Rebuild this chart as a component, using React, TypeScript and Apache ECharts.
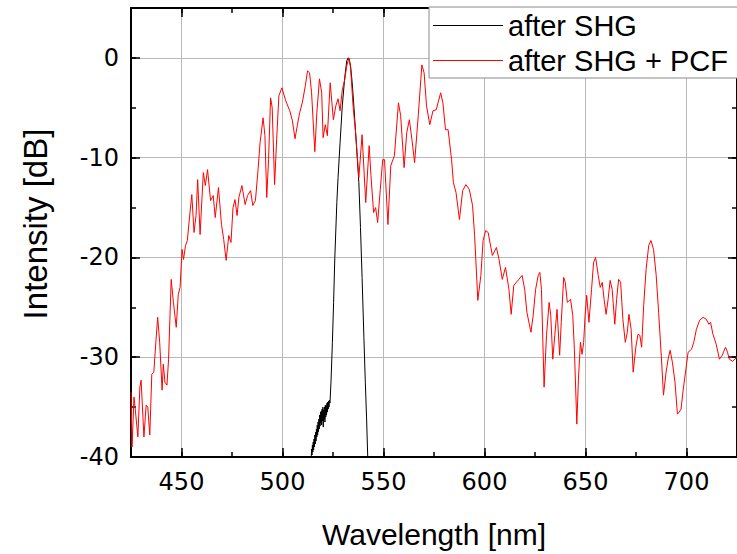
import React, { useEffect, useRef } from 'react';
import * as echarts from 'echarts';

// after SHG (black)
const shgWavelength = [
  514.2, 514.4, 514.6, 514.8, 515.0, 515.2, 515.4, 515.6, 515.8, 516.0,
  516.2, 516.4, 516.6, 516.8, 517.0, 517.2, 517.4, 517.6, 517.8, 518.0,
  518.2, 518.4, 518.6, 518.8, 519.0, 519.2, 519.4, 519.6, 519.8, 520.0,
  520.2, 520.4, 520.6, 520.8, 521.0, 521.2, 521.4, 521.6, 521.8, 522.0,
  522.2, 522.4, 522.6, 522.8, 523.0, 523.2, 523.5, 524.0, 524.7, 525.3,
  525.9, 526.9, 527.5, 528.5, 529.6, 530.8, 531.8, 532.5, 533.0, 533.7,
  534.5, 535.4, 536.2, 537.0, 537.8, 538.6, 539.4, 540.3, 541.0, 541.6,
  542.2, 542.5,
];
const shgIntensity = [
  -40.2, -39.2, -39.8, -38.8, -39.5, -38.5, -39.3, -38.2, -39.0, -37.8,
  -38.7, -37.5, -38.4, -37.2, -38.0, -36.8, -37.8, -36.5, -37.5, -36.2,
  -37.2, -35.8, -36.9, -35.5, -36.6, -35.4, -36.8, -35.2, -36.4, -35.0,
  -37.0, -35.3, -36.2, -35.0, -36.5, -34.8, -36.0, -34.9, -35.8, -34.6,
  -35.5, -34.5, -35.2, -34.4, -35.0, -34.3, -34.6, -32.5, -28.5, -24.5,
  -20.0, -14.5, -12.0, -8.5, -4.8, -2.0, -0.3, 0, -0.1, -0.8,
  -2.5, -5.0, -7.5, -10.0, -12.5, -17.0, -22.0, -28.0, -32.5, -36.0,
  -40.0, -41.5,
];

// after SHG + PCF (red)
const pcfWavelength = [
  425.0, 425.5, 426.5, 427.1, 428.4, 429.4, 430.0, 431.4, 432.5, 433.3,
  434.3, 435.3, 436.3, 437.3, 438.2, 439.2, 440.4, 441.0, 441.8, 442.8,
  443.6, 444.9, 446.0, 447.4, 448.4, 449.3, 450.3, 451.0, 452.0, 452.9,
  454.2, 455.1, 456.2, 457.2, 458.0, 459.2, 460.8, 461.8, 462.9, 464.4,
  465.7, 466.7, 468.3, 469.8, 470.9, 472.1, 473.4, 474.5, 475.5, 476.5,
  477.5, 478.4, 479.9, 481.5, 482.7, 484.2, 485.3, 486.6, 487.9, 488.9,
  490.4, 491.3, 492.2, 493.1, 494.1, 494.9, 496.1, 497.1, 498.2, 499.7,
  501.6, 503.6, 504.9, 506.2, 507.4, 508.5, 509.8, 511.3, 512.4, 513.4,
  514.4, 516.0, 517.0, 518.3, 519.4, 520.1, 521.2, 522.2, 523.6, 525.2,
  526.4, 527.5, 528.5, 529.6, 530.8, 531.8, 532.9, 533.7, 535.0, 536.2,
  537.8, 539.4, 541.2, 542.9, 543.8, 545.1, 546.1, 547.1, 548.4, 549.6,
  550.5, 552.2, 553.6, 555.4, 557.4, 558.5, 560.2, 561.5, 562.8, 564.1,
  565.4, 567.2, 569.0, 570.1, 571.3, 572.9, 574.5, 576.1, 578.3, 579.4,
  580.7, 582.0, 583.7, 584.6, 585.9, 587.6, 589.2, 590.8, 592.5, 594.1,
  595.1, 596.7, 598.2, 599.3, 600.6, 601.8, 603.9, 605.9, 607.2, 608.8,
  610.4, 612.1, 613.2, 614.5, 617.0, 618.6, 619.9, 621.0, 622.2, 623.0,
  624.1, 625.3, 626.6, 627.4, 628.2, 629.5, 630.7, 632.0, 632.8, 633.8,
  634.8, 635.9, 637.2, 638.0, 639.2, 640.0, 641.0, 642.6, 643.7, 644.5,
  645.7, 646.5, 647.5, 648.3, 649.1, 649.8, 650.6, 651.7, 653.0, 654.0,
  655.0, 656.3, 657.3, 658.3, 659.2, 660.2, 661.2, 662.2, 663.2, 664.5,
  665.4, 666.4, 667.4, 668.5, 669.7, 670.7, 671.5, 672.6, 673.6, 674.9,
  676.0, 676.9, 677.8, 678.8, 680.0, 681.3, 682.4, 683.7, 685.0, 686.2,
  687.5, 688.6, 689.9, 690.9, 691.9, 693.0, 694.3, 695.5, 696.4, 697.3,
  698.4, 699.7, 700.8, 702.5, 703.6, 704.9, 706.5, 708.2, 709.8, 711.1,
  711.9, 713.1, 714.7, 716.3, 717.7, 719.3, 720.3, 721.2, 722.8, 725.0,
];
const pcfIntensity = [
  -33.5, -39.0, -34.0, -35.2, -38.0, -33.0, -32.3, -38.0, -34.8, -35.0,
  -37.8, -31.7, -31.5, -28.5, -26.0, -28.5, -33.3, -30.7, -32.5, -32.8,
  -30.2, -22.2, -24.5, -27.0, -23.7, -23.0, -19.2, -20.2, -18.8, -18.3,
  -15.5, -13.7, -17.5, -15.8, -12.2, -17.7, -11.5, -12.8, -11.2, -14.3,
  -13.8, -16.0, -13.0, -16.7, -18.2, -20.3, -17.8, -18.5, -15.0, -14.2,
  -15.8, -14.0, -12.8, -14.7, -13.8, -13.3, -14.8, -14.3, -11.2, -8.5,
  -6.0, -7.8, -14.0, -10.2, -4.0, -5.0, -12.7, -8.2, -3.8, -3.0,
  -4.3, -5.3, -6.3, -8.1, -6.7, -5.5, -4.5, -2.8, -1.3, -1.5,
  -3.5, -9.4, -5.5, -2.1, -3.5, -8.0, -6.7, -7.8, -2.5, -6.2,
  -4.8, -4.1, -5.3, -3.2, -2.2, -0.8, 0.0, -1.0, -5.0, -7.5,
  -12.0, -7.7, -14.5, -8.8, -11.8, -15.5, -15.0, -16.5, -13.2, -10.2,
  -10.2, -16.7, -10.8, -9.8, -4.5, -5.8, -11.0, -7.5, -6.2, -8.2,
  -10.5, -5.8, -0.7, -1.5, -4.8, -6.7, -5.3, -5.2, -3.5, -4.5,
  -7.2, -7.2, -10.2, -12.5, -13.5, -16.2, -13.3, -12.7, -13.2, -14.8,
  -17.8, -24.3, -21.8, -18.3, -17.3, -17.5, -19.8, -19.0, -20.2, -22.2,
  -21.0, -23.2, -25.7, -22.8, -22.2, -21.8, -23.2, -25.5, -26.7, -27.5,
  -25.8, -23.2, -21.8, -21.5, -23.2, -33.0, -27.8, -24.5, -25.8, -30.2,
  -27.8, -25.2, -29.8, -26.5, -22.0, -22.5, -24.5, -24.2, -25.8, -29.2,
  -36.7, -32.2, -28.5, -29.7, -28.5, -25.8, -23.8, -26.5, -23.2, -20.5,
  -20.0, -21.8, -23.0, -22.5, -24.2, -25.7, -24.2, -22.3, -23.2, -26.7,
  -24.2, -22.2, -22.5, -26.2, -28.5, -27.5, -25.7, -27.2, -31.5, -29.0,
  -27.7, -27.8, -29.0, -24.8, -21.2, -18.8, -18.3, -19.2, -21.8, -25.5,
  -29.8, -33.8, -31.5, -30.2, -29.3, -30.5, -32.5, -35.7, -35.5, -35.2,
  -33.2, -31.2, -29.5, -29.2, -28.5, -27.2, -26.3, -26.0, -26.2, -26.7,
  -26.5, -27.7, -28.7, -30.2, -29.8, -29.0, -29.5, -30.2, -30.4, -30.0,
];

const xTicks = [450, 500, 550, 600, 650, 700];
const yTicks = [-40, -30, -20, -10, 0];
const seriesNames = ['after SHG', 'after SHG + PCF'];
const xTitle = 'Wavelength [nm]';
const yTitle = 'Intensity [dB]';

const SANS = "'Liberation Sans', Arial, sans-serif";
const TICK_FONT = "'DejaVu Sans', 'Liberation Sans', sans-serif";

function zip(xs: number[], ys: number[]) {
  return xs.map((x, i) => [x, ys[i]]);
}

export default function App() {
  const ref = useRef<HTMLDivElement>(null);

  useEffect(() => {
    if (!ref.current) return;
    const chart = echarts.init(ref.current, null, { renderer: 'svg' });

    const xMin = 425;
    const xMax = 725;
    const yMin = -40;
    const yMax = 5;

    const majorX = (position: 'bottom' | 'top', main: boolean) => ({
      type: 'value',
      min: xMin,
      max: xMax,
      position,
      axisLine: { show: true, onZero: false, lineStyle: { color: '#000', width: 2 } },
      axisTick: {
        show: true,
        inside: true,
        length: 9,
        customValues: xTicks,
        lineStyle: { color: '#000', width: 1.5 },
      },
      axisLabel: main
        ? {
            show: true,
            customValues: xTicks,
            margin: 13,
            fontSize: 24,
            fontFamily: TICK_FONT,
            color: '#000',
            formatter: (v: number) => (v % 50 === 0 ? String(v) : ''),
          }
        : { show: false },
      splitLine: main
        ? { show: true, lineStyle: { color: '#b8b8b8', width: 1 } }
        : { show: false },
      ...(main
        ? {
            name: xTitle,
            nameLocation: 'middle',
            nameGap: 62,
            nameTextStyle: { fontSize: 30, fontFamily: SANS, color: '#000' },
          }
        : {}),
    });

    const minorX = (position: 'bottom' | 'top') => ({
      type: 'value',
      min: xMin,
      max: xMax,
      interval: 25,
      position,
      axisLine: { show: false, onZero: false },
      axisTick: { show: true, inside: true, length: 5, lineStyle: { color: '#000', width: 1.5 } },
      axisLabel: { show: false },
      splitLine: { show: false },
    });

    const majorY = (position: 'left' | 'right', main: boolean) => ({
      type: 'value',
      min: yMin,
      max: yMax,
      position,
      axisLine: { show: true, onZero: false, lineStyle: { color: '#000', width: 2 } },
      axisTick: {
        show: true,
        inside: true,
        length: 9,
        customValues: yTicks,
        lineStyle: { color: '#000', width: 1.5 },
      },
      axisLabel: main
        ? {
            show: true,
            customValues: yTicks,
            margin: 12,
            fontSize: 24,
            fontFamily: TICK_FONT,
            color: '#000',
            formatter: (v: number) => (v % 10 === 0 ? String(v) : ''),
          }
        : { show: false },
      splitLine: main
        ? { show: true, lineStyle: { color: '#b8b8b8', width: 1 } }
        : { show: false },
    });

    const minorY = (position: 'left' | 'right') => ({
      type: 'value',
      min: yMin,
      max: yMax,
      interval: 5,
      position,
      axisLine: { show: false, onZero: false },
      axisTick: { show: true, inside: true, length: 5, lineStyle: { color: '#000', width: 1.5 } },
      axisLabel: { show: false },
      splitLine: { show: false },
    });

    const option: any = {
      animation: false,
      backgroundColor: '#fff',
      grid: { left: 131, top: 8, width: 613, height: 451, containLabel: false },
      legend: {
        show: true,
        orient: 'vertical',
        left: 429,
        top: 7,
        padding: [4, 12, 3, 4],
        icon: 'rect',
        itemWidth: 70,
        itemHeight: 1,
        itemGap: 6,
        backgroundColor: '#fff',
        borderColor: '#8a8a8a',
        borderWidth: 1,
        borderRadius: 0,
        data: seriesNames,
        textStyle: { fontSize: 29, fontFamily: SANS, color: '#000' },
      },
      graphic: [
        {
          type: 'text',
          x: 35,
          y: 224,
          rotation: Math.PI / 2,
          style: {
            text: yTitle,
            fontSize: 33,
            fontFamily: SANS,
            fill: '#000',
            textAlign: 'center',
            textVerticalAlign: 'middle',
          },
        },
      ],
      xAxis: [majorX('bottom', true), minorX('bottom'), majorX('top', false), minorX('top')],
      yAxis: [majorY('left', true), minorY('left'), majorY('right', false), minorY('right')],
      series: [
        {
          name: seriesNames[0],
          type: 'line',
          xAxisIndex: 0,
          yAxisIndex: 0,
          data: zip(shgWavelength, shgIntensity),
          symbol: 'none',
          showSymbol: false,
          clip: true,
          lineStyle: { color: '#000', width: 1 },
          itemStyle: { color: '#000' },
          z: 3,
        },
        {
          name: seriesNames[1],
          type: 'line',
          xAxisIndex: 0,
          yAxisIndex: 0,
          data: zip(pcfWavelength, pcfIntensity),
          symbol: 'none',
          showSymbol: false,
          clip: true,
          lineStyle: { color: '#ff0000', width: 1 },
          itemStyle: { color: '#ff0000' },
          z: 3,
        },
      ],
    };

    chart.setOption(option);
    return () => chart.dispose();
  }, []);

  return (
    <div
      ref={ref}
      style={{ position: 'fixed', left: 0, top: 0, width: 737, height: 554, background: '#fff' }}
    />
  );
}
